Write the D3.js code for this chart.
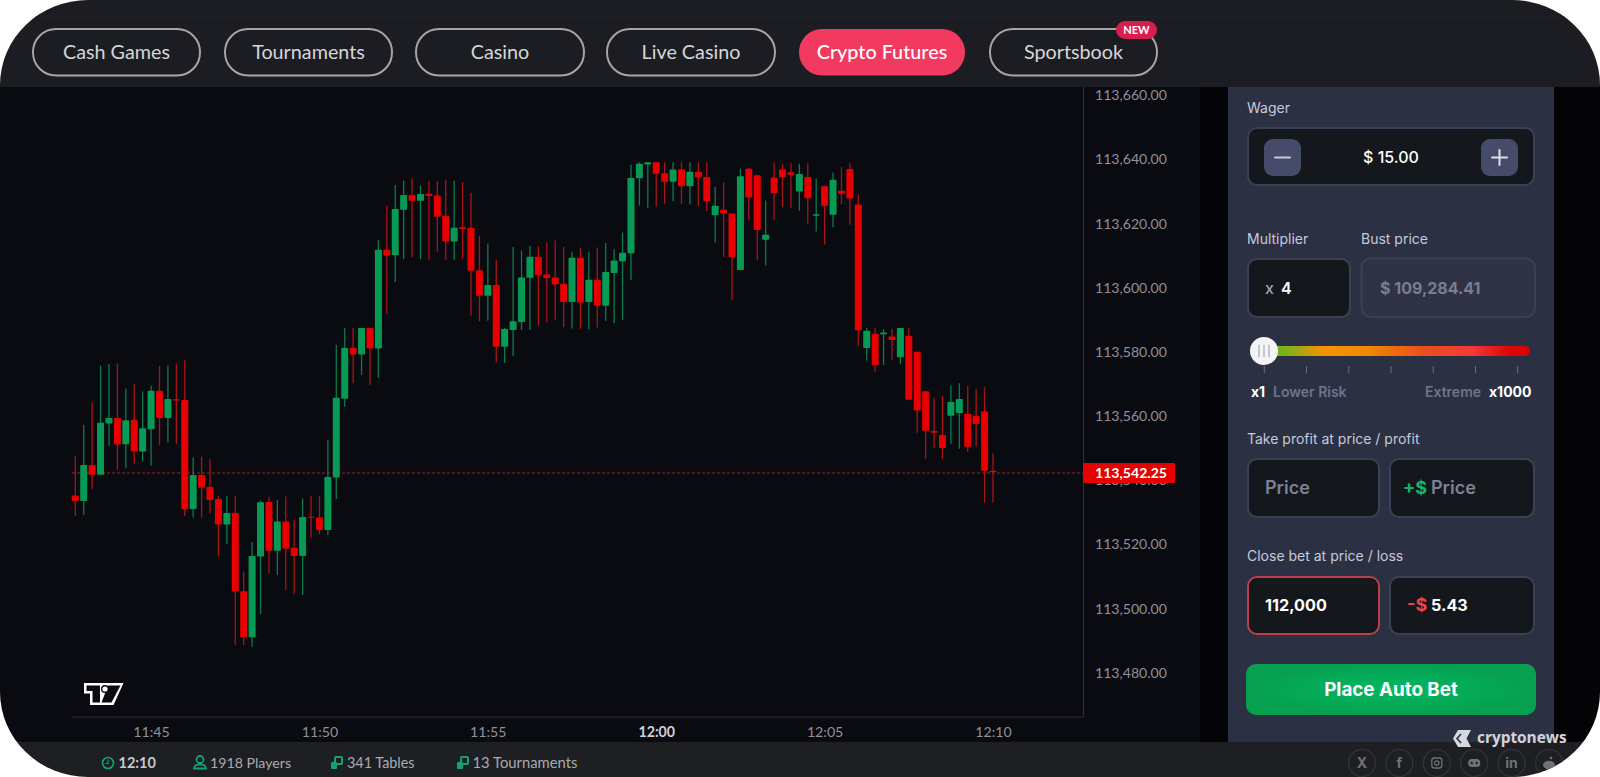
<!DOCTYPE html>
<html>
<head>
<meta charset="utf-8">
<title>Crypto Futures</title>
<script src="https://cdn.jsdelivr.net/npm/d3@7"></script>
<style>
  html, body { margin: 0; padding: 0; background: #fff; overflow: hidden; }
  svg { display: block; }
  text { font-family: Inter, sans-serif; }
  .lato text, text.lato { font-family: Lato, sans-serif; }
</style>
</head>
<body>
<script>
"use strict";

// candles, 15 seconds each
const candleOpen = [
  113534.9,113533.2,113544.4,113541.4,113557.4,113559.1,113550.9,113558.5,113548.6,113555.6,
  113567.6,113559.1,113564.9,113564.7,113530.7,113541.3,113537.6,113533.8,113525.9,113529.5,
  113505.1,113490.7,113515.9,113532.9,113517.7,113526.8,113518.6,113516.1,113528.3,113528.1,
  113524.2,113540.5,113565.1,113581.0,113578.9,113587.1,113580.7,113611.5,113609.8,113624.0,
  113628.6,113626.8,113629.0,113628.4,113622.1,113614.1,113618.5,113618.4,113605.1,113597.2,
  113600.5,113581.3,113586.5,113589.0,113602.8,113609.3,113603.8,113602.9,113600.9,113595.2,
  113609.0,113595.2,113602.2,113594.1,113604.3,113607.9,113610.4,113633.8,113638.1,113638.8,
  113635.4,113632.7,113636.5,113631.3,113635.8,113634.2,113622.3,113624.0,113622.8,113605.2,
  113636.8,113634.7,113614.6,113634.0,113636.5,113635.7,113629.7,113634.2,113622.1,113631.3,
  113622.4,113629.9,113636.7,113625.6,113580.9,113585.3,113585.2,113584.5,113578.0,113584.7,
  113579.7,113567.4,113555.0,113553.8,113559.8,113560.6,113560.4,113559.7,113561.1,113542.6
];
const candleHigh = [
  113547.2,113556.9,113564.0,113575.4,113575.9,113576.1,113568.3,113569.7,113567.3,113569.1,
  113575.3,113575.5,113576.1,113577.2,113546.8,113547.0,113546.2,113534.8,113534.8,113534.8,
  113511.2,113520.4,113533.3,113534.4,113533.5,113534.6,113527.3,113534.0,113534.8,113534.8,
  113552.2,113581.8,113587.1,113587.1,113587.1,113587.1,113614.6,113625.2,113631.7,113633.0,
  113633.7,113631.5,113633.0,113632.9,113633.3,113633.0,113632.6,113629.2,113615.9,113613.5,
  113608.4,113587.1,113612.4,113611.3,113612.8,113612.6,113613.8,113614.4,113612.4,113610.8,
  113612.2,113610.9,113612.2,113613.6,113611.7,113616.9,113638.0,113638.8,113638.8,113638.8,
  113638.8,113638.8,113638.8,113638.8,113638.8,113638.8,113631.1,113632.5,113622.8,113636.8,
  113637.0,113634.8,113626.9,113638.8,113638.3,113638.5,113638.3,113638.5,113633.7,113631.5,
  113635.6,113637.3,113638.5,113628.7,113587.1,113587.1,113586.8,113586.8,113587.1,113587.1,
  113579.7,113567.4,113565.4,113565.9,113569.2,113569.9,113569.1,113568.1,113568.7,113548.1
];
const candleLow = [
  113528.5,113528.9,113536.9,113541.4,113550.4,113543.1,113543.4,113544.7,113545.5,113544.3,
  113550.7,113551.4,113551.0,113528.5,113528.1,113528.0,113529.4,113515.9,113519.8,113488.3,
  113488.3,113487.8,113498.0,113510.7,113510.2,113505.5,113504.2,113503.9,113521.8,113522.8,
  113522.6,113533.8,113562.6,113569.9,113572.5,113569.4,113571.6,113591.5,113601.5,113608.6,
  113609.2,113608.6,113608.4,113611.0,113608.4,113608.4,113608.7,113591.0,113589.2,113589.4,
  113576.4,113576.2,113578.5,113586.5,113586.5,113587.9,113588.9,113589.7,113587.4,113587.0,
  113586.9,113586.7,113587.3,113589.4,113588.7,113589.7,113602.2,113625.3,113624.5,113625.0,
  113625.9,113626.6,113625.9,113625.6,113625.2,113623.5,113613.8,113609.2,113595.9,113605.2,
  113620.6,113608.4,113606.6,113620.9,113624.8,113624.6,113623.7,113619.6,113617.2,113613.1,
  113618.5,113625.6,113619.3,113581.6,113577.0,113573.5,113575.6,113577.2,113575.8,113564.8,
  113554.5,113546.2,113549.8,113546.2,113551.0,113549.5,113548.5,113550.2,113532.7,113532.7
];
const candleClose = [
  113533.2,113544.4,113541.4,113557.6,113559.1,113550.8,113558.4,113548.6,113555.9,113567.6,
  113559.1,113565.0,113564.5,113530.6,113541.3,113537.3,113533.5,113525.9,113529.5,113505.0,
  113490.7,113516.1,113532.8,113517.7,113526.8,113518.3,113516.1,113528.2,113528.0,113524.2,
  113540.7,113565.4,113580.9,113578.9,113587.1,113580.7,113611.5,113609.7,113624.2,113628.6,
  113626.8,113628.9,113628.3,113621.8,113614.1,113618.4,113618.0,113605.0,113597.2,113600.5,
  113581.3,113586.8,113589.2,113602.9,113609.3,113603.6,113602.7,113600.7,113595.2,113609.0,
  113595.1,113602.2,113594.1,113604.6,113608.2,113610.6,113633.9,113638.3,113638.8,113635.2,
  113632.7,113636.5,113631.3,113635.8,113634.0,113626.6,113625.2,113622.9,113609.2,113634.4,
  113627.8,113617.7,113616.2,113629.1,113634.1,113634.9,113635.1,113627.6,113622.6,113625.2,
  113633.3,113629.0,113627.5,113586.4,113586.3,113575.5,113585.7,113583.4,113587.1,113564.8,
  113561.4,113555.1,113554.5,113549.7,113564.1,113565.0,113550.1,113557.2,113542.6,113542.25
];

const lastPrice = 113542.25;
const priceTicks = [113660,113640,113620,113600,113580,113560,113540,113520,113500,113480];
const timeTicks = ["11:45","11:50","11:55","12:00","12:05","12:10"];
const navLabels = ["Cash Games","Tournaments","Casino","Live Casino","Crypto Futures","Sportsbook"];
const navActive = "Crypto Futures";
const socialLabels = ["X","f","","","in",""];

const width = 1600, height = 777;
const green = "#079a55", greenWick = "#0d7a4b", red = "#e80000", redWick = "#a81414";
const parseT = d3.timeParse("%H:%M:%S");
const fmtT = d3.timeFormat("%H:%M");
const firstT = parseT("11:42:45");
const candleTimes = candleOpen.map((d, i) => d3.timeSecond.offset(firstT, i * 15));

const svg = d3.select("body").append("svg")
  .attr("width", width).attr("height", height);
const defs = svg.append("defs");

defs.append("clipPath").attr("id", "frame").append("rect")
  .attr("width", width).attr("height", height).attr("rx", 88).attr("ry", 85);

const sliderGrad = defs.append("linearGradient").attr("id", "sliderGrad");
[[0, "#5fae22"], [0.08, "#7cb31c"], [0.22, "#f59300"], [0.38, "#f08a00"], [0.6, "#ea4f1c"], [0.78, "#f23a3a"], [0.92, "#df0606"], [1, "#d80000"]]
  .forEach(s => sliderGrad.append("stop").attr("offset", s[0]).attr("stop-color", s[1]));

const btnGrad = defs.append("radialGradient").attr("id", "btnGrad");
btnGrad.append("stop").attr("offset", 0).attr("stop-color", "#02b862");
btnGrad.append("stop").attr("offset", 1).attr("stop-color", "#06a04f");

const root = svg.append("g").attr("clip-path", "url(#frame)");

function rect(parent, x0, y0, x1, y1, fill, r, stroke, sw) {
  return parent.append("rect")
    .attr("x", x0).attr("y", y0).attr("width", x1 - x0).attr("height", y1 - y0)
    .attr("rx", r || 0).attr("fill", fill)
    .attr("stroke", stroke || "none").attr("stroke-width", sw || 0);
}
function label(parent, x, y, str, size, fill, weight, anchor) {
  return parent.append("text")
    .attr("x", x).attr("y", y).attr("dy", "0.35em")
    .attr("font-size", size).attr("fill", fill)
    .attr("font-weight", weight || 400)
    .attr("text-anchor", anchor || "start")
    .text(str);
}

// backgrounds
rect(root, 0, 0, width, 87, "#1c1d22");
rect(root, 0, 16, width, 17, "#202127");
rect(root, 0, 87, 1200, 742, "#0a0b10");
rect(root, 1200, 87, width, 742, "#040406");
rect(root, 0, 742, width, height, "#1d1f23");

// top nav
const navX = [[33,200],[225,392],[416,584],[607,775],[799,965],[990,1157]];
const nav = root.append("g").attr("class", "lato");
navLabels.forEach((d, i) => {
  const on = d === navActive;
  rect(nav, navX[i][0], 29, navX[i][1], 75.5, on ? "#f2395f" : "none", 23, on ? "none" : "#a6a6a9", on ? 0 : 2);
  label(nav, (navX[i][0] + navX[i][1]) / 2, 52, d, 19.75, on ? "#ffffff" : "#d6d6d8", on ? 500 : 400, "middle");
});
rect(nav, 1116, 21, 1157, 39, "#d81e4e", 9);
label(nav, 1136.5, 30, "NEW", 11, "#ffffff", 700, "middle");

// scales
const x = d3.scaleTime()
  .domain([candleTimes[0], candleTimes[candleTimes.length - 1]])
  .range([75.3, 993]);
const y = d3.scaleLinear().domain([113660, 113480]).range([94.2, 671.7]);

// axes
const chart = root.append("g");
const yAxis = d3.axisRight(y).tickValues(priceTicks)
  .tickFormat(d3.format(",.2f")).tickSize(0).tickPadding(0);
const yG = chart.append("g").attr("class", "lato").attr("transform", "translate(1095,1)").call(yAxis);
yG.select(".domain").remove();
yG.selectAll("text").attr("fill", "#8e909c").attr("font-size", 14.1);

const xAxis = d3.axisBottom(x)
  .tickValues(timeTicks.map(d => parseT(d + ":00")))
  .tickFormat(fmtT).tickSize(0).tickPadding(0);
const xG = chart.append("g").attr("class", "lato").attr("transform", "translate(0,727)").call(xAxis);
xG.select(".domain").remove();
xG.selectAll("text").attr("fill", d => fmtT(d) === "12:00" ? "#d0d1d8" : "#8e909c")
  .attr("font-weight", d => fmtT(d) === "12:00" ? 700 : 400)
  .attr("font-size", 14.2);

chart.append("line").attr("x1", 72).attr("x2", 1083.5).attr("y1", 717).attr("y2", 717)
  .attr("stroke", "#2c2b3c").attr("stroke-width", 1.2);
chart.append("line").attr("x1", 1083.5).attr("x2", 1083.5).attr("y1", 87).attr("y2", 717)
  .attr("stroke", "#2c2b3c").attr("stroke-width", 1.2);

// last price line
chart.append("line").attr("x1", 72).attr("x2", 1083).attr("y1", y(lastPrice) + 1).attr("y2", y(lastPrice) + 1)
  .attr("stroke", "#a82020").attr("stroke-width", 1).attr("stroke-dasharray", "3 2");

// candles
const idx = d3.range(candleOpen.length);
const candles = chart.append("g").selectAll("g").data(idx).enter().append("g");
candles.append("line")
  .attr("x1", i => x(candleTimes[i])).attr("x2", i => x(candleTimes[i]))
  .attr("y1", i => y(candleHigh[i])).attr("y2", i => y(candleLow[i]))
  .attr("stroke", i => candleClose[i] >= candleOpen[i] ? greenWick : redWick)
  .attr("stroke-width", 1.3);
candles.append("rect")
  .attr("x", i => x(candleTimes[i]) - 3.5)
  .attr("width", 7)
  .attr("y", i => y(Math.max(candleOpen[i], candleClose[i])))
  .attr("height", i => Math.max(1, Math.abs(y(candleOpen[i]) - y(candleClose[i]))))
  .attr("rx", 0.8)
  .attr("fill", i => candleClose[i] >= candleOpen[i] ? green : red);

// last price tag
rect(chart, 1083, y(lastPrice) - 9, 1175, y(lastPrice) + 11, "#e60000", 1);
label(chart, 1095, y(lastPrice) + 1, d3.format(",.2f")(lastPrice), 14.1, "#ffffff", 700).attr("class", "lato");

// chart logo
const logo = chart.append("g");
logo.append("path").attr("fill", "#ffffff").attr("d", "M84 683H123.5L113.5 705H90V693.5H84Z");
logo.append("path").attr("fill", "#0a0b10").attr("d", "M86.5 685.5H100V702.5H92.5V691H86.5Z");
logo.append("path").attr("fill", "#0a0b10").attr("d", "M108 685.5H120.5L111.5 702.5H101.5Z");
logo.append("circle").attr("cx", 105).attr("cy", 689).attr("r", 4).attr("fill", "#0a0b10");
logo.append("circle").attr("cx", 105).attr("cy", 689).attr("r", 2.6).attr("fill", "#ffffff");

// side panel
const panel = root.append("g");
rect(panel, 1228, 87, 1554, 742, "#2c3043");
const inBox = "#14171c", boxLine = "#3b4053", lbl = "#c8cad8";

label(panel, 1247, 108, "Wager", 14, lbl);
rect(panel, 1248, 128, 1534, 185, inBox, 9, boxLine, 2);
rect(panel, 1264, 139, 1301, 176, "#454b69", 9);
rect(panel, 1481, 139, 1518, 176, "#454b69", 9);
rect(panel, 1274, 156.5, 1291, 158.5, "#c8cbd8", 1);
rect(panel, 1491, 156.5, 1508, 158.5, "#dfe1ea", 1);
rect(panel, 1498.5, 149, 1500.5, 166, "#dfe1ea", 1);
label(panel, 1391, 157, "$ 15.00", 16, "#ffffff", 500, "middle");

label(panel, 1247, 239, "Multiplier", 14, lbl);
label(panel, 1361, 239, "Bust price", 14, lbl);
rect(panel, 1248, 259, 1350, 317, inBox, 9, boxLine, 2);
rect(panel, 1361.5, 258.5, 1535, 317, "#2f3345", 9, boxLine, 2);
label(panel, 1265, 288, "x", 16, "#a0a3b4", 500);
label(panel, 1281, 288, "4", 16, "#ffffff", 600);
label(panel, 1380, 288, "$ 109,284.41", 16, "#7a7e91", 700);

rect(panel, 1265, 346, 1530, 356, "url(#sliderGrad)", 5);
const sliderTicks = d3.scaleLinear().domain([0, 6]).range([1264.3, 1517.7]);
panel.selectAll(".stick").data(d3.range(7)).enter().append("line")
  .attr("x1", sliderTicks).attr("x2", sliderTicks).attr("y1", 366).attr("y2", 373)
  .attr("stroke", "#6c7085").attr("stroke-width", 1);
panel.append("circle").attr("cx", 1264).attr("cy", 351).attr("r", 14).attr("fill", "#f4f4f6");
[-5, 0, 5].forEach(d => rect(panel, 1263 + d, 344.5, 1265 + d, 357.5, "#c5c6cd", 1));
label(panel, 1251, 392.5, "x1", 14, "#ffffff", 700);
label(panel, 1273, 392.5, "Lower Risk", 14, "#71758a", 600);
label(panel, 1425, 392.5, "Extreme", 14, "#71758a", 600);
label(panel, 1489, 392.5, "x1000", 14, "#ffffff", 700);

label(panel, 1247, 439.5, "Take profit at price / profit", 14, lbl);
rect(panel, 1248, 459, 1379, 517, inBox, 9, boxLine, 2);
rect(panel, 1390, 459, 1534, 517, inBox, 9, boxLine, 2);
label(panel, 1265, 488, "Price", 18, "#7d8197", 600);
label(panel, 1403, 488, "+$", 18, "#12b76a", 700);
label(panel, 1431, 488, "Price", 18, "#7d8197", 600);

label(panel, 1247, 556, "Close bet at price / loss", 14, lbl);
rect(panel, 1248, 577, 1379, 634, inBox, 9, "#b8414b", 2);
rect(panel, 1390, 577, 1534, 634, inBox, 9, boxLine, 2);
label(panel, 1265, 605, "112,000", 16.2, "#ffffff", 700);
label(panel, 1407, 605, "-$", 18, "#ef4444", 700);
label(panel, 1431, 605, "5.43", 16.2, "#ffffff", 700);

rect(panel, 1246, 664, 1536, 715, "url(#btnGrad)", 10);
label(panel, 1391, 689.5, "Place Auto Bet", 18.8, "#ffffff", 700, "middle");

// status bar
const bar = root.append("g").attr("class", "lato");
const ic = "#14a273";
bar.append("circle").attr("cx", 108).attr("cy", 763).attr("r", 5.5).attr("fill", "none").attr("stroke", ic).attr("stroke-width", 1.6);
bar.append("path").attr("d", "M108 759.5V763.5H105.5").attr("fill", "none").attr("stroke", ic).attr("stroke-width", 1.2);
bar.append("circle").attr("cx", 200).attr("cy", 759.5).attr("r", 3.5).attr("fill", "none").attr("stroke", ic).attr("stroke-width", 1.8);
bar.append("path").attr("d", "M194 768.5C194.5 763 205.5 763 206 768.5Z").attr("fill", "none").attr("stroke", ic).attr("stroke-width", 1.8);
[[331], [457]].forEach(d => {
  rect(bar, d[0] + 4, 757, d[0] + 11, 764, "none", 1, ic, 2);
  rect(bar, d[0], 762, d[0] + 6, 769, ic, 1);
});
label(bar, 118.5, 763, "12:10", 14.5, "#c6c8cd", 700);
label(bar, 210, 763, "1918 Players", 14.2, "#a9abb2");
label(bar, 347, 763, "341 Tables", 14.4, "#a9abb2");
label(bar, 472.5, 763, "13 Tournaments", 14.8, "#a9abb2");

const socialX = d3.scaleLinear().domain([0, 5]).range([1362, 1549]);
const social = root.append("g");
const sc = "#6f7179";
socialLabels.forEach((d, i) => {
  social.append("circle").attr("cx", socialX(i)).attr("cy", 763).attr("r", 13.5)
    .attr("fill", "none").attr("stroke", "#2f3137").attr("stroke-width", 1.5);
  if (d) label(social, socialX(i), 763, d, 14, sc, 700, "middle");
});
rect(social, socialX(2) - 5, 758, socialX(2) + 5, 768, "none", 2.5, sc, 1.3);
social.append("circle").attr("cx", socialX(2)).attr("cy", 763).attr("r", 2.2).attr("fill", "none").attr("stroke", sc).attr("stroke-width", 1.2);
rect(social, socialX(3) - 6, 759, socialX(3) + 6, 767, sc, 3.5);
[-2.5, 2.5].forEach(d => social.append("circle").attr("cx", socialX(3) + d).attr("cy", 763).attr("r", 1.2).attr("fill", "#1d1f23"));
social.append("ellipse").attr("cx", socialX(5)).attr("cy", 765).attr("rx", 6).attr("ry", 4.2).attr("fill", sc);
social.append("circle").attr("cx", socialX(5) + 2).attr("cy", 758).attr("r", 1.3).attr("fill", sc);

// watermark
const wm = root.append("g");
wm.append("path").attr("fill", "#d6d8dc").attr("d", "M1458 730H1471L1466.5 738.5L1471 747H1458L1453 738.5Z");
wm.append("path").attr("fill", "none").attr("stroke", "#2c3043").attr("stroke-width", 1.6).attr("d", "M1461 734L1457 738.5L1461 743");
wm.append("text").attr("x", 1477).attr("y", 738).attr("dy", "0.35em")
  .attr("font-size", 15.4).attr("font-weight", 700).attr("fill", "#d2d4d9")
  .style("font-family", "'Open Sans', sans-serif").text("cryptonews");
</script>
</body>
</html>
